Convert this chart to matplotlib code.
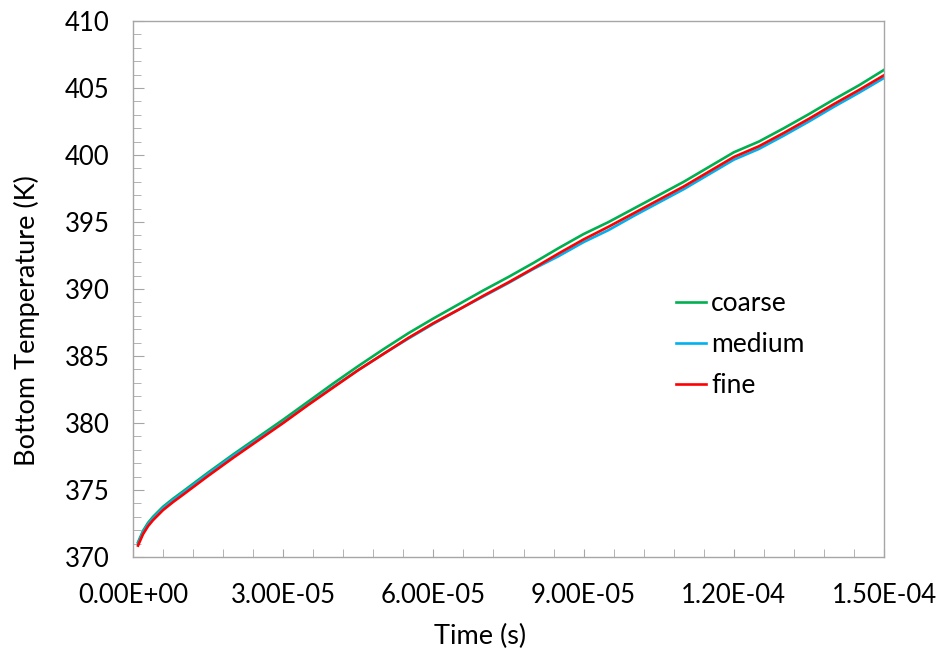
import numpy as np
import matplotlib
matplotlib.use("Agg")
import matplotlib.pyplot as plt
from matplotlib.ticker import MultipleLocator, FuncFormatter

# Time samples (s) and bottom temperature (K) for three mesh resolutions
time_s = np.array([0.1, 0.2, 0.3, 0.4, 0.6, 0.8, 1.0, 1.5, 2.0, 2.5, 3.0, 3.5,
                   4.0, 4.5, 5.0, 5.5, 6.0, 6.5, 7.0, 7.5, 8.0, 8.5, 9.0, 9.5,
                   10.0, 10.5, 11.0, 11.5, 12.0, 12.5, 13.0, 13.5, 14.0, 14.5,
                   15.0]) * 1e-5

coarse = [371.1, 371.95, 372.55, 373.0, 373.75, 374.35, 374.9, 376.3, 377.65,
          378.95, 380.25, 381.6, 382.95, 384.25, 385.5, 386.7, 387.8, 388.85,
          389.9, 390.9, 391.95, 393.05, 394.1, 395.0, 396.0, 397.0, 398.0,
          399.1, 400.2, 401.0, 402.0, 403.05, 404.15, 405.2, 406.35]
medium = [371.0, 371.85, 372.45, 372.9, 373.65, 374.25, 374.8, 376.2, 377.55,
          378.8, 380.05, 381.4, 382.7, 383.95, 385.15, 386.3, 387.4, 388.45,
          389.45, 390.45, 391.5, 392.45, 393.5, 394.4, 395.45, 396.45, 397.45,
          398.55, 399.65, 400.45, 401.45, 402.5, 403.6, 404.65, 405.75]
fine = [370.85, 371.7, 372.3, 372.75, 373.5, 374.1, 374.65, 376.05, 377.4,
        378.7, 380.0, 381.35, 382.65, 383.95, 385.15, 386.35, 387.45, 388.45,
        389.5, 390.5, 391.55, 392.65, 393.7, 394.65, 395.65, 396.65, 397.65,
        398.75, 399.85, 400.65, 401.65, 402.7, 403.8, 404.85, 405.95]

series = [("coarse", coarse, "#00b050"),
          ("medium", medium, "#00b0f0"),
          ("fine", fine, "#ff0000")]

plt.rcParams['font.family'] = ['Lato', 'DejaVu Sans']

fig = plt.figure(figsize=(9.4, 6.57), dpi=100)
ax = fig.add_axes([133 / 940, 1 - 557 / 657, 751 / 940, 536 / 657])

for name, vals, col in series:
    ax.plot(time_s, vals, color=col, lw=1.9, label=name)

ax.set_xlim(0, 1.5e-4)
ax.set_ylim(370, 410)
ax.xaxis.set_major_locator(MultipleLocator(3e-5))
ax.xaxis.set_minor_locator(MultipleLocator(6e-6))
ax.yaxis.set_major_locator(MultipleLocator(5))
ax.yaxis.set_minor_locator(MultipleLocator(1))
ax.xaxis.set_major_formatter(FuncFormatter(lambda v, p: f"{v:.2E}"))

grey = "#a6a6a6"
for s in ax.spines.values():
    s.set_color(grey)
    s.set_linewidth(1.0)

ax.tick_params(axis='both', which='both', direction='in', color=grey,
               top=False, right=False, labelsize=18.5, labelcolor='black')
ax.tick_params(axis='x', which='major', length=6, pad=19)
ax.tick_params(axis='x', which='minor', length=6)
ax.tick_params(axis='y', which='major', length=8, pad=17)
ax.tick_params(axis='y', which='minor', length=6)

fig.text(480 / 940, 1 - 636 / 657, "Time (s)", fontsize=19.5,
         ha='center', va='center')
fig.text(27 / 940, 1 - 321 / 657, "Bottom Temperature (K)", fontsize=19.5,
         rotation=90, ha='center', va='center')

ax.legend(loc='upper left', bbox_to_anchor=(0.691, 0.541), frameon=False,
          fontsize=19, handlelength=1.15, handletextpad=0.2, labelspacing=0.62)

fig.savefig("out.png", dpi=100, facecolor='white')
